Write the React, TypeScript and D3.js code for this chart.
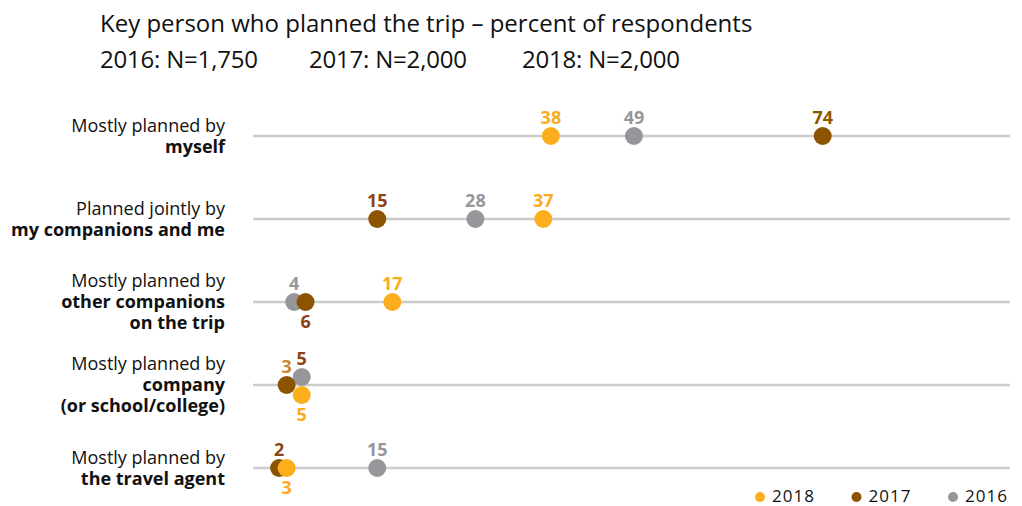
import React from "react";
import * as d3 from "d3";

const categories = [
  ["Mostly planned by", "myself"],
  ["Planned jointly by", "my companions and me"],
  ["Mostly planned by", "other companions", "on the trip"],
  ["Mostly planned by", "company", "(or school/college)"],
  ["Mostly planned by", "the travel agent"],
];
const years = ["2018", "2017", "2016"];
const values2018 = [38, 37, 17, 5, 3];
const values2017 = [74, 15, 5.5, 3, 2];
const values2016 = [49, 28, 4, 5, 15];
const sampleLabels = ["2016: N=1,750", "2017: N=2,000", "2018: N=2,000"];

const W = 1022, H = 506;
const FONT = "'Open Sans', sans-serif";
const colors: Record<string, string> = { "2018": "#fdae1c", "2017": "#8c5300", "2016": "#97979b" };
const labelColors: Record<string, string> = { "2018": "#fbab1c", "2017": "#8c4414", "2016": "#97979b" };

// placement: [dotDy, labelPos('a'|'b'), labelColorOverride]
const place: Record<string, [number, string, string?][]> = {
  "2018": [[0, "a"], [0, "a"], [0, "a"], [10, "b"], [0, "b"]],
  "2017": [[0, "a", "#8c5500"], [0, "a"], [0, "b"], [0, "a", "#c88a2a"], [0, "a"]],
  "2016": [[0, "a"], [0, "a"], [0, "a"], [-8, "a", "#8c4414"], [0, "a"]],
};

export default function App() {
  const x = d3.scaleLinear().domain([0, 100]).range([264, 1019]);
  const rowY = d3.scalePoint<number>().domain(d3.range(categories.length)).range([136, 468]);
  const series: [string, number[]][] = [["2016", values2016], ["2017", values2017], ["2018", values2018]];
  const fmt = d3.format(".0f");
  return (
    <svg width={W} height={H} style={{ position: "absolute", left: 0, top: 0, fontFamily: FONT }}>
      <rect width={W} height={H} fill="#fff" />
      <text x={100} y={32} fontSize={24} fill="#111">Key person who planned the trip – percent of respondents</text>
      {sampleLabels.map((s, i) => (
        <text key={s} x={[100, 309, 522][i]} y={68} fontSize={24} fill="#111" letterSpacing={-0.2}>{s}</text>
      ))}
      {categories.map((lines, i) => {
        const y = rowY(i)!;
        const n = lines.length;
        return (
          <g key={i}>
            <line x1={253} x2={1010} y1={y} y2={y} stroke="#cccccc" strokeWidth={2.5} />
            {lines.map((l, j) => (
              <text key={j} x={225} y={y + 6 + (j - (n - 1) / 2) * 21} textAnchor="end" fontSize={18}
                fontWeight={j === 0 ? 400 : 700} fill="#111">{l}</text>
            ))}
          </g>
        );
      })}
      {series.map(([yr, vals]) => (
        <g key={yr}>
          {vals.map((v, i) => {
            const [dy] = place[yr][i];
            return <circle key={i} cx={x(v)} cy={rowY(i)! + dy} r={9} fill={colors[yr]} />;
          })}
        </g>
      ))}
      {series.map(([yr, vals]) => (
        <g key={"l" + yr}>
          {vals.map((v, i) => {
            const [dy, pos, col] = place[yr][i];
            const cy = rowY(i)! + dy;
            const ly = pos === "a" ? cy - 12 : cy + 26;
            return (
              <text key={i} x={x(v)} y={ly} textAnchor="middle" fontSize={18} fontWeight={700}
                fill={col || labelColors[yr]}>{fmt(v)}</text>
            );
          })}
        </g>
      ))}
      {years.map((yr, i) => (
        <g key={yr}>
          <circle cx={760 + i * 96.5} cy={497} r={5} fill={colors[yr]} />
          <text x={772 + i * 96.5} y={502} fontSize={17} letterSpacing={1} fill="#111">{yr}</text>
        </g>
      ))}
    </svg>
  );
}
